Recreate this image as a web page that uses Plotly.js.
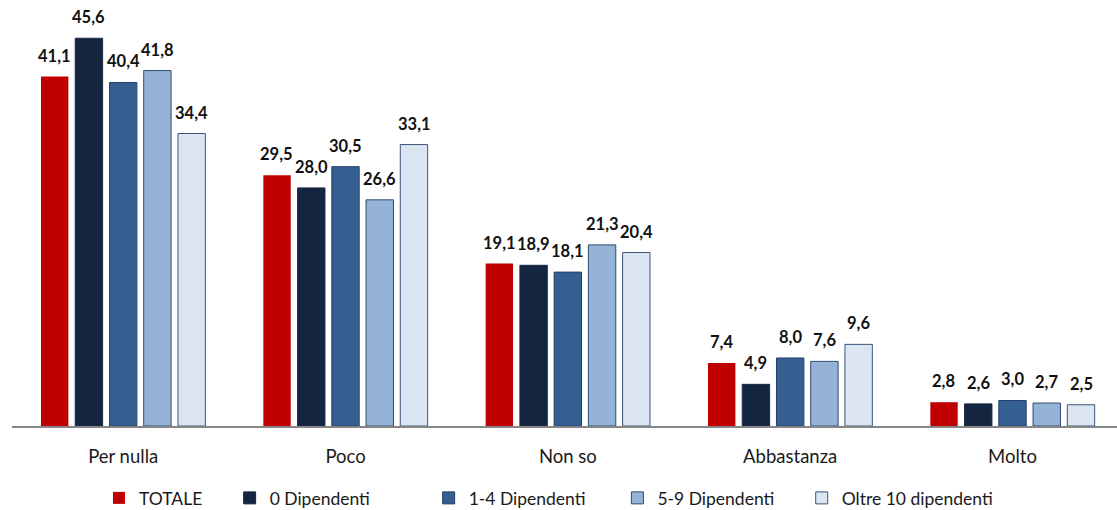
<!DOCTYPE html>
<html><head><meta charset="utf-8">
<script src="https://cdn.plot.ly/plotly-3.0.1.min.js"></script>
<style>html,body{margin:0;padding:0;background:#fff}#chart{width:1117px;height:510px}</style>
</head><body><div id="chart"></div>
<script>
const categories = ["Per nulla", "Poco", "Non so", "Abbastanza", "Molto"];
const seriesNames = ["TOTALE", "0 Dipendenti", "1-4 Dipendenti", "5-9 Dipendenti", "Oltre 10 dipendenti"];
const totale = [41.1, 29.5, 19.1, 7.4, 2.8];
const dip0 = [45.6, 28.0, 18.9, 4.9, 2.6];
const dip1_4 = [40.4, 30.5, 18.1, 8.0, 3.0];
const dip5_9 = [41.8, 26.6, 21.3, 7.6, 2.7];
const dipOltre10 = [34.4, 33.1, 20.4, 9.6, 2.5];

const seriesValues = [totale, dip0, dip1_4, dip5_9, dipOltre10];
const colors = ["#C00000", "#13253F", "#365F91", "#95B3D7", "#DCE6F2"];
const lineColors = ["#C00000", "#1B2A44", "#24406A", "#2E4A70", "#3A5478"];
const legendPad = [5, 12, 6, 5, 0];
const fmt = v => v.toFixed(1).replace(".", ",");

const traces = seriesValues.map((vals, i) => ({
  type: "bar",
  x: categories,
  y: vals,
  name: seriesNames[i] + "\u00a0".repeat(legendPad[i]),
  marker: {color: colors[i], line: {color: lineColors[i], width: i === 0 ? 0 : 1}},
  hoverinfo: "skip"
}));

const step = 0.1543;
const annotations = [];
seriesValues.forEach((vals, i) => {
  vals.forEach((v, j) => {
    annotations.push({
      x: j + (i - 2) * step, y: v, xref: "x", yref: "y",
      text: "<b>" + fmt(v) + "</b>", showarrow: false,
      yanchor: "bottom", yshift: 9,
      font: {family: "Lato, 'Noto Sans', sans-serif", size: 16.5, color: "#111"}
    });
  });
});

const layout = {
  width: 1117, height: 510,
  margin: {l: 12, r: 0, t: 0, b: 84, autoexpand: false},
  paper_bgcolor: "#fff", plot_bgcolor: "#fff",
  barmode: "group", bargap: 0.23, bargroupgap: 0.2,
  font: {family: "Lato, 'Noto Sans', sans-serif", size: 17, color: "#1a1a1a"},
  xaxis: {
    type: "category", range: [-0.5, 4.47], showline: true, linecolor: "#868686", linewidth: 1.5,
    ticks: "", showgrid: false, zeroline: false, ticklabelstandoff: 13, automargin: false,
    tickfont: {size: 18.5}
  },
  yaxis: {range: [0, 50.1], visible: false, showgrid: false, zeroline: false, automargin: false},
  showlegend: true,
  legend: {orientation: "h", x: 0.0787, xanchor: "left", yref: "container", y: 0.0235, yanchor: "middle",
           font: {size: 17.5}, itemwidth: 30, traceorder: "normal"},
  annotations: annotations
};
Plotly.newPlot("chart", traces, layout, {displayModeBar: false, staticPlot: true});
</script></body></html>
